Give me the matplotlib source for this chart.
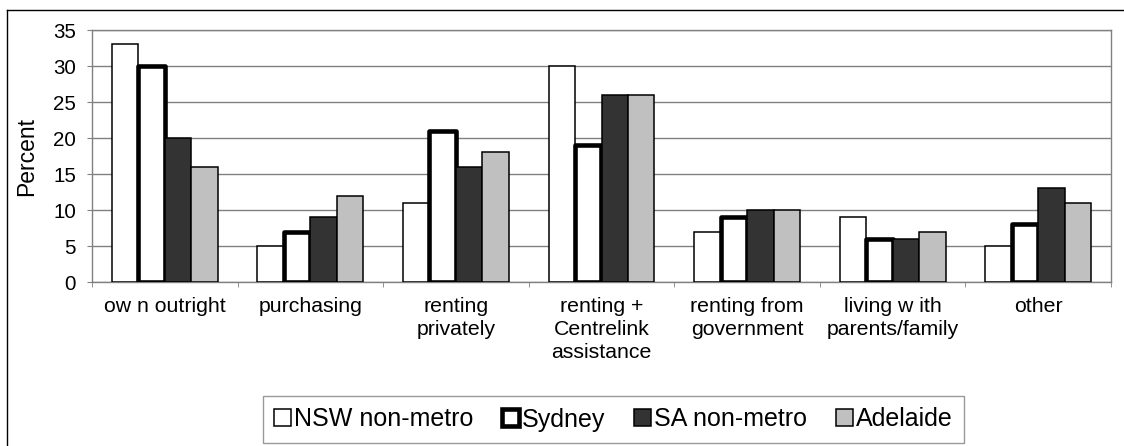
import matplotlib.pyplot as plt
import numpy as np
from matplotlib.lines import Line2D

plt.rcParams['font.family'] = ['Liberation Sans', 'DejaVu Sans']

categories = ['ow n outright', 'purchasing', 'renting\nprivately',
              'renting +\nCentrelink\nassistance', 'renting from\ngovernment',
              'living w ith\nparents/family', 'other']
series = ['NSW non-metro', 'Sydney', 'SA non-metro', 'Adelaide']
nsw_nonmetro = [33, 5, 11, 30, 7, 9, 5]
sydney = [30, 7, 21, 19, 9, 6, 8]
sa_nonmetro = [20, 9, 16, 26, 10, 6, 13]
adelaide = [16, 12, 18, 26, 10, 7, 11]
y_ticks = [0, 5, 10, 15, 20, 25, 30, 35]

fig = plt.figure(figsize=(11.24, 4.46), dpi=100)
ax = fig.add_axes([92 / 1124, 1 - 282 / 446, (1111 - 92) / 1124, (282 - 30) / 446])

x = np.arange(len(categories))
w = 0.182
styles = [
    dict(facecolor='white', edgecolor='black', linewidth=1.1),
    dict(facecolor='white', edgecolor='black', linewidth=3.3, joinstyle='round'),
    dict(facecolor='#333333', edgecolor='black', linewidth=1.1),
    dict(facecolor='#c0c0c0', edgecolor='black', linewidth=1.1),
]
data = [nsw_nonmetro, sydney, sa_nonmetro, adelaide]
for i, (name, vals) in enumerate(zip(series, data)):
    ax.bar(x + (i - 1.5) * w, vals, w, label=name, zorder=3, **styles[i])

ax.set_xlim(-0.5, len(categories) - 0.5)
ax.set_ylim(0, 35)
ax.set_yticks(y_ticks)
ax.yaxis.grid(True, color='#808080', linewidth=1, zorder=0)
for s in ax.spines.values():
    s.set_color('#808080')
    s.set_linewidth(1)

ax.set_xticks(x)
ax.set_xticklabels(categories, fontsize=15.3, linespacing=1.25)
ax.set_xticks(np.arange(-0.5, len(categories)), minor=True)
ax.tick_params(axis='x', which='major', length=0, pad=11)
ax.tick_params(axis='x', which='minor', length=3.6, direction='out', color='#808080')
ax.tick_params(axis='y', length=3.6, direction='out', color='#808080', labelsize=14.8, pad=8)

fig.text(27 / 1124, 1 - 156 / 446, 'Percent', rotation=90, fontsize=16.5,
         ha='center', va='center')

leg = fig.legend(loc='center', bbox_to_anchor=(613.5 / 1124, 1 - 419.5 / 446), ncol=4,
                 fontsize=18, frameon=True, fancybox=False, edgecolor='#808080',
                 handlelength=0.68, handleheight=0.68, handletextpad=0.12,
                 columnspacing=1.15, borderpad=0.45, borderaxespad=0)
leg.get_frame().set_linewidth(1)

# outer chart frame (only left and top visible)
fig.add_artist(Line2D([7 / 1124, 7 / 1124], [0, 1 - 10 / 446], transform=fig.transFigure,
                      color='black', linewidth=1))
fig.add_artist(Line2D([7 / 1124, 1], [1 - 10 / 446, 1 - 10 / 446], transform=fig.transFigure,
                      color='black', linewidth=1))

fig.savefig('out.png', dpi=100)
